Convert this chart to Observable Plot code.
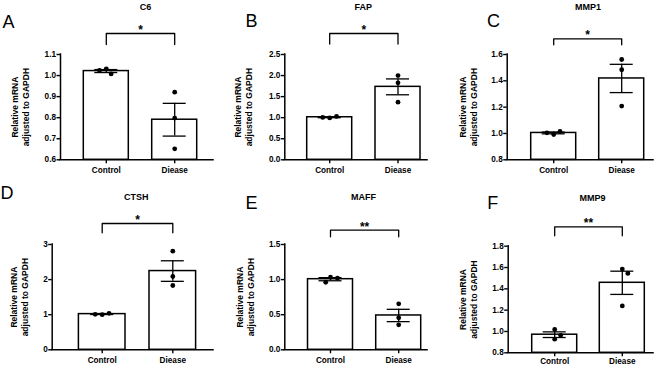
<!DOCTYPE html>
<html>
<head>
<meta charset="utf-8">
<script src="https://cdn.jsdelivr.net/npm/d3@7"></script>
<script src="https://cdn.jsdelivr.net/npm/@observablehq/plot@0.6"></script>
<style>
  body { margin: 0; background: #fff; }
  #figure { position: relative; width: 669px; height: 366px; overflow: hidden; background: #fff; }
  #figure svg { position: absolute; overflow: visible; }
  #figure g[aria-label="x-axis tick"] path,
  #figure g[aria-label="y-axis tick"] path { stroke-width: 1.4; }
</style>
</head>
<body>
<div id="figure"></div>
<script>
// qPCR results: relative mRNA (normalised to GAPDH), three replicates per group
const panelLetters = ["A", "B", "C", "D", "E", "F"];
const genes = ["C6", "FAP", "MMP1", "CTSH", "MAFF", "MMP9"];
const groups = ["Control", "Diease"];
const controlValues = [
  [1.032, 1.008, 1.024],
  [0.995, 1.03, 1.005],
  [0.992, 1.015, 1.005],
  [1.0, 1.04, 1.01],
  [1.035, 1.02, 0.962],
  [1.019, 0.928, 0.9625]
];
const diseaseValues = [
  [0.921, 0.798, 0.652],
  [2.0, 1.827, 1.369],
  [1.562, 1.484, 1.208],
  [2.81, 2.088, 1.832],
  [0.655, 0.456, 0.356],
  [1.585, 1.545, 1.24]
];
const significance = ["*", "*", "*", "*", "**", "**"];
const yDomains = [[0.6, 1.1], [0, 2.5], [0.8, 1.6], [0, 3], [0, 1.5], [0.8, 1.8]];
const yTicks = [
  [0.6, 0.7, 0.8, 0.9, 1.0, 1.1],
  [0, 0.5, 1.0, 1.5, 2.0, 2.5],
  [0.8, 1.0, 1.2, 1.4, 1.6],
  [0, 1, 2, 3],
  [0, 0.5, 1.0, 1.5],
  [0.8, 1.0, 1.2, 1.4, 1.6, 1.8]
];
const yTickDecimals = [1, 1, 1, 0, 1, 1];
const yLabel = "Relative mRNA\nadjusted to GAPDH";

// page layout of each panel (pixels)
const layout = [
  {left: 0,   top: 0,   width: 220, height: 183, axisX: 60,    c0: 105.8, c1: 174.2, xEnd: 213, yTop: 54,    yBot: 159.3, barHalf: 22.5, xTickPad: 3.5, letterX: 2,     letterY: 27,    titleX: 145,   titleY: 9.5,   bracketTop: 33,    bracketBottom: 44,    yLabelGap: 34.7},
  {left: 220, top: 0,   width: 220, height: 183, axisX: 284.3, c0: 329.2, c1: 397.5, xEnd: 427, yTop: 54,    yBot: 159.3, barHalf: 22.5, xTickPad: 3.5, letterX: 245,   letterY: 26,    titleX: 362.8, titleY: 9.5,   bracketTop: 33,    bracketBottom: 43.5,  yLabelGap: 36},
  {left: 440, top: 0,   width: 229, height: 183, axisX: 506.7, c0: 553.2, c1: 621.2, xEnd: 653, yTop: 54,    yBot: 159.3, barHalf: 22.5, xTickPad: 3.5, letterX: 486.5, letterY: 26.5,  titleX: 587.5, titleY: 9.5,   bracketTop: 38.3,  bracketBottom: 44.3,  yLabelGap: 34},
  {left: 0,   top: 183, width: 220, height: 183, axisX: 51.7,  c0: 101.7, c1: 172.3, xEnd: 213, yTop: 244,   yBot: 349.3, barHalf: 23.3, xTickPad: 3.5, letterX: 0,     letterY: 198,   titleX: 135.7, titleY: 199,   bracketTop: 223,   bracketBottom: 232.3, yLabelGap: 27.4},
  {left: 220, top: 183, width: 220, height: 183, axisX: 284.3, c0: 330,   c1: 398.2, xEnd: 427, yTop: 244,   yBot: 349.3, barHalf: 22.5, xTickPad: 3.5, letterX: 245,   letterY: 208.7, titleX: 363,   titleY: 199,   bracketTop: 229.7, bracketBottom: 236.3, yLabelGap: 34.6},
  {left: 440, top: 183, width: 229, height: 183, axisX: 507.7, c0: 554.2, c1: 621.8, xEnd: 653, yTop: 245.7, yBot: 352.3, barHalf: 22.5, xTickPad: 1.5, letterX: 486.7, letterY: 208.7, titleX: 592,   titleY: 200.7, bracketTop: 226.3, bracketBottom: 235.3, yLabelGap: 34.4}
];

const FONT = "'Liberation Sans', Arial, Helvetica, sans-serif";
const DOT_R = 2.4;
const CAP_HALF = 11.5;
const LABEL_SIZE = 8.5;
const LINE_H = 1.3;

// beeswarm-style horizontal spread for replicate dots that would overlap (pixel space)
function dodgeOffsets(values, pxPerY, minDist) {
  const placed = [];
  return values.map(v => {
    const y = v * pxPerY;
    const cands = [0];
    for (const p of placed) {
      const dy = Math.abs(p.y - y);
      if (dy < minDist) {
        const dx = Math.sqrt(minDist * minDist - dy * dy);
        cands.push(p.x + dx, p.x - dx);
      }
    }
    cands.sort((a, b) => Math.abs(a) - Math.abs(b) || b - a);
    const x = cands.find(c => placed.every(p => Math.hypot(p.x - c, p.y - y) >= minDist - 1e-6));
    placed.push({x, y});
    return x;
  });
}

const figure = document.getElementById("figure");

layout.forEach((L, k) => {
  const [yMin, yMax] = yDomains[k];
  const pxX = L.c1 - L.c0;
  const pxY = (L.yBot - L.yTop) / (yMax - yMin);
  const yAt = px => yMax - (px - L.yTop) / pxY;

  const summary = [controlValues[k], diseaseValues[k]].map((vals, i) => ({
    i,
    group: groups[i],
    mean: d3.mean(vals),
    sem: d3.deviation(vals) / Math.sqrt(vals.length),
    vals
  }));
  const points = summary.flatMap(s => {
    const off = dodgeOffsets(s.vals, pxY, 7);
    return s.vals.map((v, j) => ({x: s.i + off[j] / pxX, value: v}));
  });

  const halfBar = L.barHalf / pxX;
  const halfCap = CAP_HALF / pxX;
  const xDomain = [(L.axisX - L.c0) / pxX, 1 + (L.xEnd - L.c1) / pxX];
  const fmt = d3.format(`.${yTickDecimals[k]}f`);
  const bracket = [[0, yAt(L.bracketBottom)], [0, yAt(L.bracketTop)], [1, yAt(L.bracketTop)], [1, yAt(L.bracketBottom)]];

  const plot = Plot.plot({
    width: L.width,
    height: L.height,
    marginLeft: L.axisX - L.left,
    marginRight: L.left + L.width - L.xEnd,
    marginTop: L.yTop - L.top,
    marginBottom: L.top + L.height - L.yBot,
    style: {fontFamily: FONT, fontSize: "8.2px", fontWeight: "bold", color: "#000", background: "transparent", overflow: "visible"},
    x: {domain: xDomain, ticks: [0, 1], tickFormat: i => groups[i], tickSize: 4, tickPadding: L.xTickPad, label: null},
    y: {domain: [yMin, yMax], ticks: yTicks[k], tickFormat: fmt, tickSize: 3.5, tickPadding: 1, label: null},
    marks: [
      // bars: group means
      Plot.rect(summary, {x1: d => d.i - halfBar, x2: d => d.i + halfBar, y1: yMin, y2: "mean", fill: "white", stroke: "black", strokeWidth: 1.5}),
      // SEM error bars
      Plot.ruleX(summary, {x: "i", y1: d => d.mean - d.sem, y2: d => d.mean + d.sem, stroke: "black", strokeWidth: 1.3}),
      Plot.ruleY(summary, {y: d => d.mean + d.sem, x1: d => d.i - halfCap, x2: d => d.i + halfCap, stroke: "black", strokeWidth: 1.3}),
      Plot.ruleY(summary, {y: d => d.mean - d.sem, x1: d => d.i - halfCap, x2: d => d.i + halfCap, stroke: "black", strokeWidth: 1.3}),
      // replicate dots
      Plot.dot(points, {x: "x", y: "value", r: DOT_R, fill: "black", stroke: "none"}),
      // axis lines
      Plot.ruleX([xDomain[0]], {stroke: "black", strokeWidth: 1.5, strokeLinecap: "square"}),
      Plot.ruleY([yMin], {stroke: "black", strokeWidth: 1.5, strokeLinecap: "square"}),
      // significance bracket and stars
      Plot.line(bracket, {stroke: "black", strokeWidth: 1.3}),
      Plot.text([significance[k]], {x: 0.5, y: yAt(L.bracketTop + 0.5), lineAnchor: "bottom", fontSize: 12, fontWeight: "bold"}),
      // gene title
      Plot.text([genes[k]], {x: (L.titleX - L.c0) / pxX, frameAnchor: "top", dy: L.titleY - L.yTop, lineAnchor: "bottom", fontSize: 9, fontWeight: "bold"}),
      // panel letter
      Plot.text([panelLetters[k]], {frameAnchor: "top-left", dx: L.letterX - L.axisX, dy: L.letterY - L.yTop, textAnchor: "start", lineAnchor: "bottom", fontSize: 18, fontWeight: "normal"}),
      // y-axis title
      Plot.text([yLabel], {frameAnchor: "left", dx: -(L.yLabelGap + LABEL_SIZE * LINE_H / 2), rotate: -90, textAnchor: "middle", lineAnchor: "middle", lineHeight: LINE_H, fontSize: LABEL_SIZE, fontWeight: "bold"})
    ]
  });
  plot.style.left = L.left + "px";
  plot.style.top = L.top + "px";
  figure.append(plot);
});
</script>
</body>
</html>
